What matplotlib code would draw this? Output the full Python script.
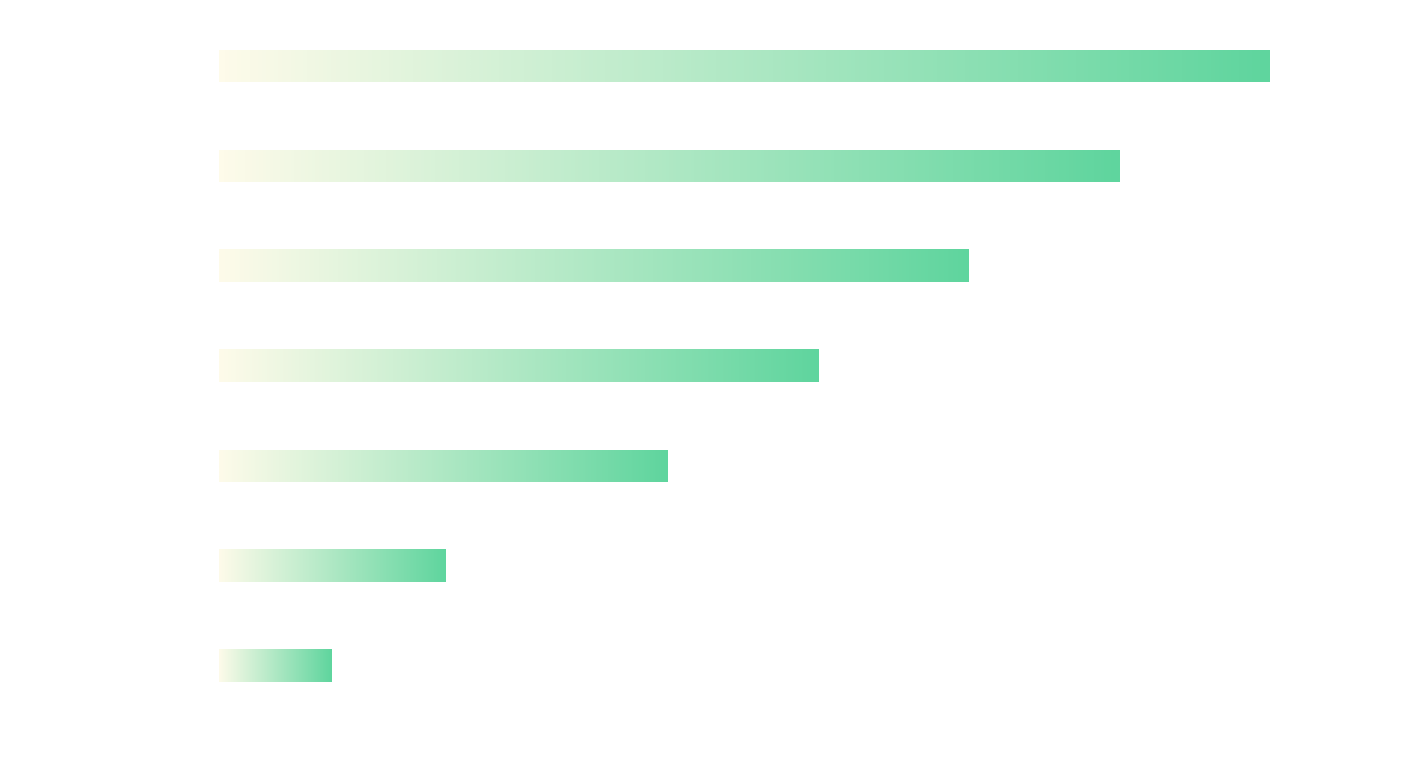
import numpy as np
import matplotlib.pyplot as plt
from matplotlib.colors import LinearSegmentedColormap

categories = ['A', 'B', 'C', 'D', 'E', 'F', 'G']
values = [700, 600, 499, 399, 299, 151, 75]

cmap = LinearSegmentedColormap.from_list('cream_green', ['#fefbea', '#5fd59e'])
grad = np.linspace(0, 1, 256).reshape(1, -1)

fig = plt.figure(figsize=(14.26, 7.74), dpi=100)
ax = fig.add_axes([219 / 1426, 1 - 716 / 774, 1051 / 1426, 700 / 774])

bar_h = 0.32
for i, (cat, val) in enumerate(zip(categories, values)):
    # one gradient per bar, running from its start to its own end
    ax.imshow(grad, cmap=cmap, aspect='auto', interpolation='bilinear',
              extent=[0, val, i - bar_h / 2, i + bar_h / 2], zorder=2)

ax.set_xlim(0, max(values))
ax.set_ylim(len(categories) - 0.5, -0.5)
ax.axis('off')

fig.savefig('out.png', dpi=100, facecolor='white')
